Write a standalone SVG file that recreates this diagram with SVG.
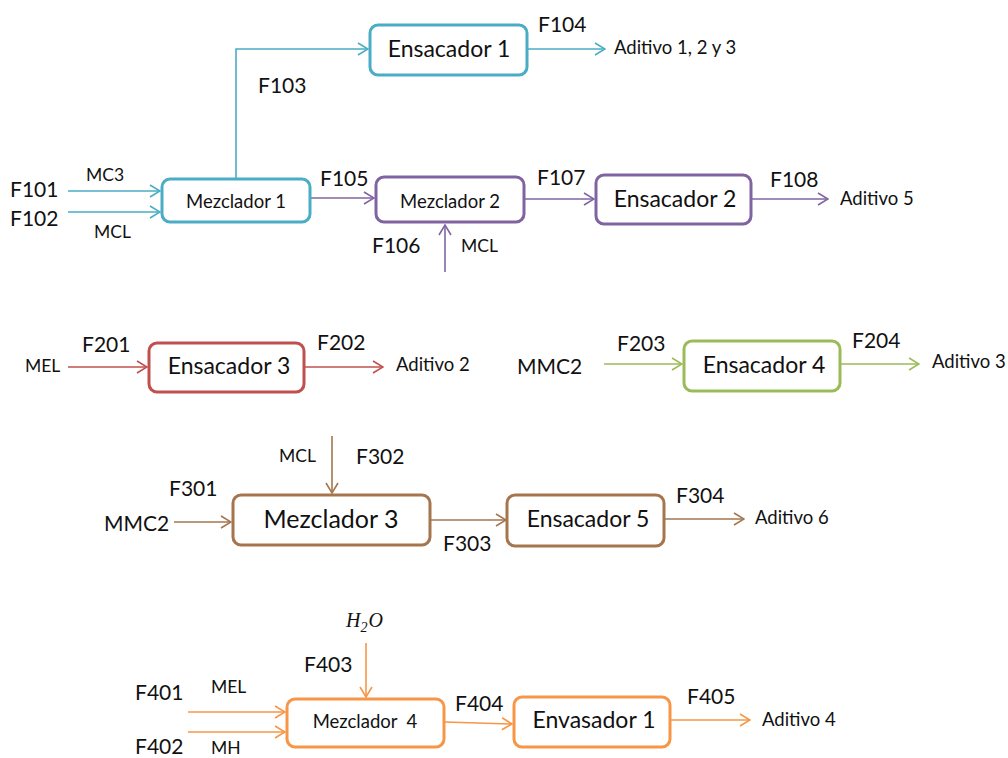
<svg xmlns="http://www.w3.org/2000/svg" width="1008" height="758" viewBox="0 0 1008 758">
  <style>
    text { font-family: Lato, "Open Sans", "Liberation Sans", sans-serif; fill: #111; }
    .f { font-size: 21px; }
    .big { font-size: 23px; }
    .mm { font-size: 21px; }
    .mid { font-size: 18.5px; }
    .sm { font-size: 17.5px; }
    .box { fill: #fff; stroke-width: 3; }
    .ln { fill: none; stroke-width: 1.6; }
    .teal { stroke: #4bacc6; }
    .purple { stroke: #8064a2; }
    .red { stroke: #c0504d; }
    .green { stroke: #9bbb59; }
    .brown { stroke: #a5764d; }
    .orange { stroke: #f79646; }
  </style>
  <defs>
    <marker id="aTeal" viewBox="0 0 12 14" refX="11" refY="7" markerWidth="12" markerHeight="14" markerUnits="userSpaceOnUse" orient="auto">
      <path d="M1,1 L11,7 L1,13" fill="none" stroke="#4bacc6" stroke-width="1.6"/>
    </marker>
    <marker id="aPurple" viewBox="0 0 12 14" refX="11" refY="7" markerWidth="12" markerHeight="14" markerUnits="userSpaceOnUse" orient="auto">
      <path d="M1,1 L11,7 L1,13" fill="none" stroke="#8064a2" stroke-width="1.6"/>
    </marker>
    <marker id="aRed" viewBox="0 0 12 14" refX="11" refY="7" markerWidth="12" markerHeight="14" markerUnits="userSpaceOnUse" orient="auto">
      <path d="M1,1 L11,7 L1,13" fill="none" stroke="#c0504d" stroke-width="1.6"/>
    </marker>
    <marker id="aGreen" viewBox="0 0 12 14" refX="11" refY="7" markerWidth="12" markerHeight="14" markerUnits="userSpaceOnUse" orient="auto">
      <path d="M1,1 L11,7 L1,13" fill="none" stroke="#9bbb59" stroke-width="1.6"/>
    </marker>
    <marker id="aBrown" viewBox="0 0 12 14" refX="11" refY="7" markerWidth="12" markerHeight="14" markerUnits="userSpaceOnUse" orient="auto">
      <path d="M1,1 L11,7 L1,13" fill="none" stroke="#a5764d" stroke-width="1.6"/>
    </marker>
    <marker id="aOrange" viewBox="0 0 12 14" refX="11" refY="7" markerWidth="12" markerHeight="14" markerUnits="userSpaceOnUse" orient="auto">
      <path d="M1,1 L11,7 L1,13" fill="none" stroke="#f79646" stroke-width="1.6"/>
    </marker>
  </defs>
  <rect width="1008" height="758" fill="#fff"/>

  <!-- connectors -->
  <g id="connectors">
    <path class="ln teal" d="M236,179 V49 H368" marker-end="url(#aTeal)"/>
    <path class="ln teal" d="M527,49 H605" marker-end="url(#aTeal)"/>
    <path class="ln teal" d="M68,191 H160" marker-end="url(#aTeal)"/>
    <path class="ln teal" d="M68,212 H160" marker-end="url(#aTeal)"/>
    <path class="ln purple" d="M311,198 H374" marker-end="url(#aPurple)"/>
    <path class="ln purple" d="M445,272 V225" marker-end="url(#aPurple)"/>
    <path class="ln purple" d="M524,199 H594" marker-end="url(#aPurple)"/>
    <path class="ln purple" d="M752,199 H828" marker-end="url(#aPurple)"/>

    <path class="ln red" d="M68,367 H147" marker-end="url(#aRed)"/>
    <path class="ln red" d="M305,367 H383" marker-end="url(#aRed)"/>
    <path class="ln green" d="M604,364 H682" marker-end="url(#aGreen)"/>
    <path class="ln green" d="M841,364 H919" marker-end="url(#aGreen)"/>

    <path class="ln brown" d="M332,436 V493" marker-end="url(#aBrown)"/>
    <path class="ln brown" d="M174,522 H231" marker-end="url(#aBrown)"/>
    <path class="ln brown" d="M431,520 H506" marker-end="url(#aBrown)"/>
    <path class="ln brown" d="M665,519 H744" marker-end="url(#aBrown)"/>

    <path class="ln orange" d="M366,643 V697" marker-end="url(#aOrange)"/>
    <path class="ln orange" d="M188,712 H285" marker-end="url(#aOrange)"/>
    <path class="ln orange" d="M188,732 H285" marker-end="url(#aOrange)"/>
    <path class="ln orange" d="M445,722 L512,724" marker-end="url(#aOrange)"/>
    <path class="ln orange" d="M671,720 H750" marker-end="url(#aOrange)"/>
  </g>

  <!-- stream labels -->
  <g id="labels">
    <text class="f" x="538" y="32">F104</text>
    <text class="mid" x="614" y="54">Aditivo 1, 2 y 3</text>
    <text class="f" x="258" y="93">F103</text>
    <text class="sm" x="86" y="181">MC3</text>
    <text class="f" x="10" y="197">F101</text>
    <text class="f" x="10" y="226">F102</text>
    <text class="sm" x="94" y="238">MCL</text>
    <text class="f" x="320" y="186">F105</text>
    <text class="f" x="372" y="253">F106</text>
    <text class="sm" x="461" y="252">MCL</text>
    <text class="f" x="537" y="185">F107</text>
    <text class="f" x="770" y="187">F108</text>
    <text class="mid" x="840" y="205">Aditivo 5</text>

    <text class="sm" x="25" y="372">MEL</text>
    <text class="f" x="82" y="352">F201</text>
    <text class="f" x="317" y="350">F202</text>
    <text class="mid" x="396" y="371">Aditivo 2</text>
    <text class="mm" x="517" y="374">MMC2</text>
    <text class="f" x="617" y="351">F203</text>
    <text class="f" x="852" y="348">F204</text>
    <text class="mid" x="932" y="368">Aditivo 3</text>

    <text class="sm" x="279" y="462">MCL</text>
    <text class="f" x="356" y="464">F302</text>
    <text class="f" x="169" y="496">F301</text>
    <text class="mm" x="104" y="531">MMC2</text>
    <text class="f" x="443" y="551">F303</text>
    <text class="f" x="676" y="503">F304</text>
    <text class="mid" x="755" y="524">Aditivo 6</text>

    <text x="346" y="627" style="font-family:'Liberation Serif',serif;font-style:italic;font-size:20px">H<tspan dy="5" font-size="14">2</tspan><tspan dy="-5" dx="1">O</tspan></text>
    <text class="f" x="304" y="672">F403</text>
    <text class="f" x="135" y="700">F401</text>
    <text class="sm" x="211" y="693">MEL</text>
    <text class="f" x="135" y="754">F402</text>
    <text class="sm" x="211" y="754">MH</text>
    <text class="f" x="455" y="711">F404</text>
    <text class="f" x="687" y="704">F405</text>
    <text class="mid" x="762" y="726">Aditivo 4</text>
  </g>

  <!-- process units -->
  <g id="ensacador1">
    <rect class="box teal" x="370" y="25" width="157" height="50" rx="8"/>
    <text class="big" x="449" y="57" text-anchor="middle">Ensacador 1</text>
  </g>
  <g id="mezclador1">
    <rect class="box teal" x="162" y="179" width="148" height="43" rx="8"/>
    <text class="mid" x="236" y="208" text-anchor="middle">Mezclador 1</text>
  </g>
  <g id="mezclador2">
    <rect class="box purple" x="376" y="177" width="148" height="45" rx="8"/>
    <text class="mid" x="450" y="208" text-anchor="middle">Mezclador 2</text>
  </g>
  <g id="ensacador2">
    <rect class="box purple" x="596" y="175" width="155" height="49" rx="8"/>
    <text class="big" x="675" y="207" text-anchor="middle">Ensacador 2</text>
  </g>
  <g id="ensacador3">
    <rect class="box red" x="149" y="343" width="155" height="49" rx="8"/>
    <text class="big" x="229" y="374" text-anchor="middle">Ensacador 3</text>
  </g>
  <g id="ensacador4">
    <rect class="box green" x="684" y="341" width="156" height="50" rx="8"/>
    <text class="big" x="764" y="373" text-anchor="middle">Ensacador 4</text>
  </g>
  <g id="mezclador3">
    <rect class="box brown" x="233" y="495" width="197" height="50" rx="8"/>
    <text x="331" y="528" text-anchor="middle" style="font-size:25px">Mezclador 3</text>
  </g>
  <g id="ensacador5">
    <rect class="box brown" x="507" y="495" width="157" height="51" rx="8"/>
    <text class="big" x="588" y="527" text-anchor="middle">Ensacador 5</text>
  </g>
  <g id="mezclador4">
    <rect class="box orange" x="287" y="699" width="157" height="48" rx="8"/>
    <text class="mid" x="365" y="728" text-anchor="middle" xml:space="preserve">Mezclador  4</text>
  </g>
  <g id="envasador1">
    <rect class="box orange" x="514" y="697" width="156" height="50" rx="8"/>
    <text class="big" x="594" y="728" text-anchor="middle">Envasador 1</text>
  </g>
</svg>
